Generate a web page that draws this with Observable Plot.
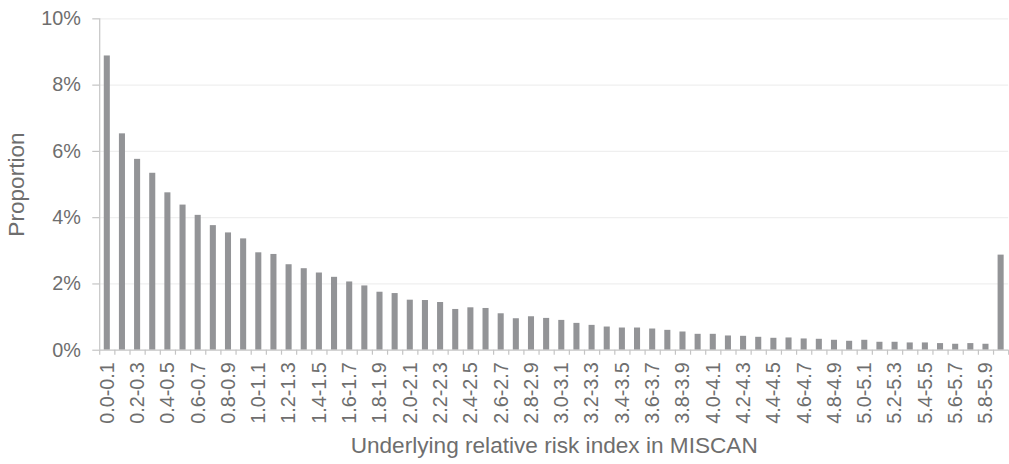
<!DOCTYPE html>
<html>
<head>
<meta charset="utf-8">
<script src="https://cdn.jsdelivr.net/npm/d3@7"></script>
<script src="https://cdn.jsdelivr.net/npm/@observablehq/plot@0.6"></script>
<style>
  html, body { margin: 0; padding: 0; background: #fff; overflow: hidden; }
  #chart { width: 1009px; height: 464px; overflow: hidden; }
</style>
</head>
<body>
<div id="chart"></div>
<script>
// Risk-index bins (width 0.1)
const categories = [
  "0.0-0.1","0.1-0.2","0.2-0.3","0.3-0.4","0.4-0.5","0.5-0.6","0.6-0.7","0.7-0.8","0.8-0.9","0.9-1.0",
  "1.0-1.1","1.1-1.2","1.2-1.3","1.3-1.4","1.4-1.5","1.5-1.6","1.6-1.7","1.7-1.8","1.8-1.9","1.9-2.0",
  "2.0-2.1","2.1-2.2","2.2-2.3","2.3-2.4","2.4-2.5","2.5-2.6","2.6-2.7","2.7-2.8","2.8-2.9","2.9-3.0",
  "3.0-3.1","3.1-3.2","3.2-3.3","3.3-3.4","3.4-3.5","3.5-3.6","3.6-3.7","3.7-3.8","3.8-3.9","3.9-4.0",
  "4.0-4.1","4.1-4.2","4.2-4.3","4.3-4.4","4.4-4.5","4.5-4.6","4.6-4.7","4.7-4.8","4.8-4.9","4.9-5.0",
  "5.0-5.1","5.1-5.2","5.2-5.3","5.3-5.4","5.4-5.5","5.5-5.6","5.6-5.7","5.7-5.8","5.8-5.9","5.9-6.0"
];

// Proportion of the population in each bin (%)
const proportions = [
  8.88, 6.53, 5.76, 5.34, 4.75, 4.38, 4.07, 3.76, 3.54, 3.36,
  2.94, 2.89, 2.58, 2.46, 2.33, 2.20, 2.06, 1.94, 1.75, 1.71,
  1.51, 1.50, 1.44, 1.23, 1.28, 1.26, 1.10, 0.95, 1.01, 0.96,
  0.90, 0.81, 0.75, 0.70, 0.67, 0.67, 0.64, 0.60, 0.55, 0.48,
  0.48, 0.43, 0.42, 0.39, 0.36, 0.37, 0.34, 0.33, 0.30, 0.27,
  0.30, 0.24, 0.24, 0.22, 0.22, 0.20, 0.18, 0.20, 0.18, 2.87
];

const yTicks = [0, 2, 4, 6, 8, 10];
const xTitle = "Underlying relative risk index in MISCAN";
const yTitle = "Proportion";

const data = categories.map((c, i) => ({i, category: c, value: proportions[i]}));
const binEdges = d3.range(categories.length + 1);
const labelled = data.filter(d => d.i % 2 === 0);

const textColor = "#6e6e6e";
const axisColor = "#c4c4c4";
const font = "'Liberation Sans', Arial, sans-serif";

const chart = Plot.plot({
  width: 1017,
  height: 464,
  marginLeft: 100,
  marginRight: 0.8,
  marginTop: 18.5,
  marginBottom: 111.5,
  style: {fontFamily: font, color: textColor, background: "#fff"},
  x: {type: "linear", domain: [0, categories.length], axis: null},
  y: {domain: [0, 10], axis: null},
  marks: [
    Plot.gridY(yTicks.filter(t => t > 0), {stroke: "#efefef", strokeOpacity: 1, strokeWidth: 1.2}),
    Plot.rectY(data, {x1: d => d.i + 0.3, x2: d => d.i + 0.7, y: "value", fill: "#939497"}),
    Plot.ruleY([0], {stroke: axisColor, strokeWidth: 1.2}),
    Plot.ruleX([0], {y1: 0, y2: 10, stroke: axisColor, strokeWidth: 1.2}),
    Plot.axisY({
      ticks: yTicks, tickFormat: d => d + "%", tickSize: 7, tickPadding: 12,
      stroke: axisColor, strokeWidth: 1.2, fontSize: 20, fill: textColor, label: null
    }),
    Plot.axisX({
      ticks: binEdges, tickSize: 5, tickFormat: () => "",
      stroke: axisColor, strokeWidth: 1.2, label: null
    }),
    Plot.axisX(labelled, {
      x: d => d.i + 0.5, text: "category", tickSize: 0, tickPadding: 12,
      tickRotate: -90, fontSize: 20, fill: textColor, label: null
    }),
    Plot.text([xTitle], {
      frameAnchor: "bottom", lineAnchor: "middle", textAnchor: "middle",
      dy: 96.5, fontSize: 22.8, fill: textColor
    }),
    Plot.text([yTitle], {
      frameAnchor: "left", lineAnchor: "middle", textAnchor: "middle",
      dx: -84, rotate: -90, fontSize: 22.8, fill: textColor
    })
  ]
});

document.getElementById("chart").appendChild(chart);
</script>
</body>
</html>
